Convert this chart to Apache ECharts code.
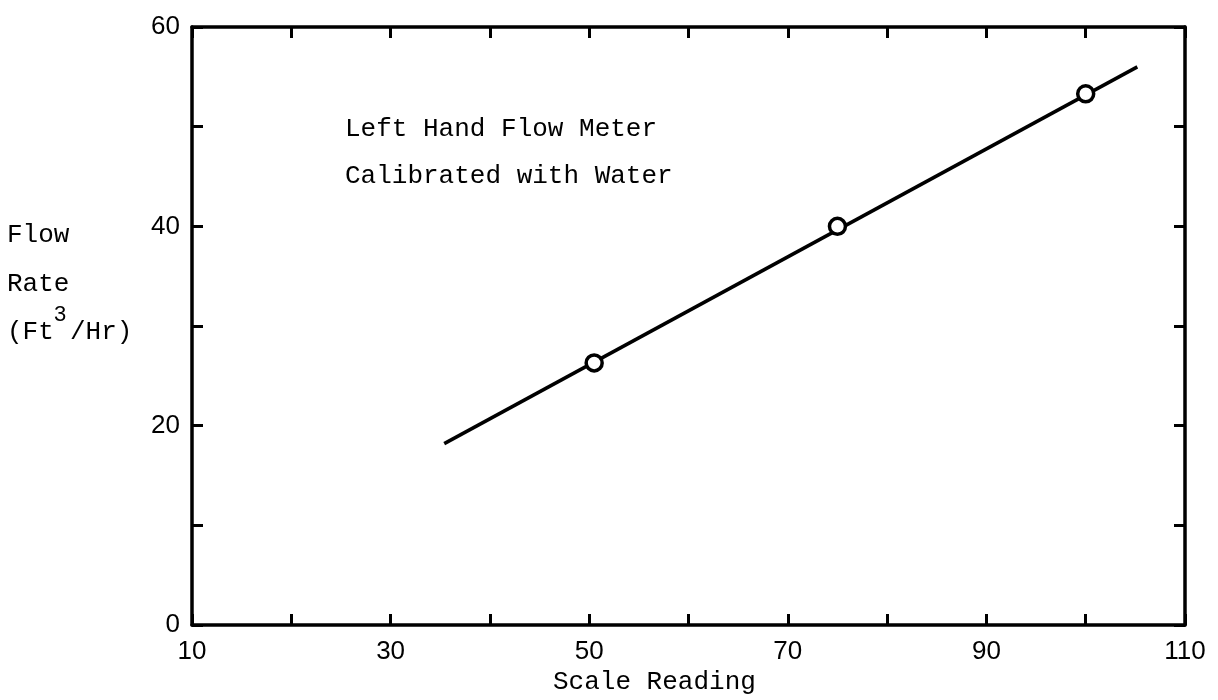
<!DOCTYPE html>
<html>
<head>
<meta charset="utf-8">
<script src="https://cdn.jsdelivr.net/npm/echarts@6/dist/echarts.min.js"></script>
<style>
html,body{margin:0;padding:0;background:#fff;}
#chart{width:1218px;height:700px;}
</style>
</head>
<body>
<div id="chart"></div>
<script>
// Data
const xLabelValues = [10, 30, 50, 70, 90, 110];
const yLabelValues = [0, 20, 40, 60];
const calibrationPoints = [[50.5, 26.3], [75, 40.0], [100, 53.3]];
const fitLine = [[35.4, 18.2], [105.2, 56.0]];
const annotationLines = ['Left Hand Flow Meter', 'Calibrated with Water'];
const xTitle = 'Scale Reading';

const mono = '"Liberation Mono", "DejaVu Sans Mono", monospace';
const sans = '"Liberation Sans", "DejaVu Sans", sans-serif';

const chart = echarts.init(document.getElementById('chart'));

const axisLine = { show: true, onZero: false, lineStyle: { color: '#000', width: 3.5 } };
const tick = { show: true, inside: true, length: 11, lineStyle: { color: '#000', width: 3 } };

const option = {
  backgroundColor: '#fff',
  animation: false,
  grid: { left: 192, right: 33, top: 27, bottom: 75, containLabel: false },
  xAxis: [
    {
      type: 'value', min: 10, max: 110, interval: 10, position: 'bottom',
      axisLine, axisTick: tick, splitLine: { show: false },
      axisLabel: {
        margin: 14, color: '#000', fontFamily: sans, fontSize: 26,
        formatter: v => xLabelValues.includes(v) ? String(v) : ''
      }
    },
    {
      type: 'value', min: 10, max: 110, interval: 10, position: 'top',
      axisLine, axisTick: tick, splitLine: { show: false }, axisLabel: { show: false }
    }
  ],
  yAxis: [
    {
      type: 'value', min: 0, max: 60, interval: 10, position: 'left',
      axisLine, axisTick: tick, splitLine: { show: false },
      axisLabel: {
        margin: 12, color: '#000', fontFamily: sans, fontSize: 26,
        formatter: v => yLabelValues.includes(v) ? String(v) : ''
      }
    },
    {
      type: 'value', min: 0, max: 60, interval: 10, position: 'right',
      axisLine, axisTick: tick, splitLine: { show: false }, axisLabel: { show: false }
    }
  ],
  series: [
    {
      type: 'line', data: fitLine, symbol: 'none', xAxisIndex: 0, yAxisIndex: 0,
      lineStyle: { color: '#000', width: 3.5 }, z: 2
    },
    {
      type: 'scatter', data: calibrationPoints, symbol: 'circle', symbolSize: 16,
      xAxisIndex: 0, yAxisIndex: 0,
      itemStyle: { color: '#fff', borderColor: '#000', borderWidth: 3.5, opacity: 1 }, z: 3
    }
  ],
  graphic: [
    { type: 'text', left: 345, top: 130 - 14, style: { text: annotationLines[0], font: '26px ' + mono, fill: '#000' } },
    { type: 'text', left: 345, top: 177 - 14, style: { text: annotationLines[1], font: '26px ' + mono, fill: '#000' } },
    { type: 'text', left: 7, top: 236 - 14, style: { text: 'Flow', font: '26px ' + mono, fill: '#000' } },
    { type: 'text', left: 7, top: 285 - 14, style: { text: 'Rate', font: '26px ' + mono, fill: '#000' } },
    { type: 'text', left: 7, top: 333 - 14, style: { text: '(Ft', font: '26px ' + mono, fill: '#000' } },
    { type: 'text', left: 54, top: 316 - 12, style: { text: '3', font: '22px ' + sans, fill: '#000' } },
    { type: 'text', left: 70, top: 333 - 14, style: { text: '/Hr)', font: '26px ' + mono, fill: '#000' } },
    { type: 'text', left: 655 - 102, top: 683 - 14, style: { text: xTitle, font: '26px ' + mono, fill: '#000' } }
  ]
};
chart.setOption(option);
</script>
</body>
</html>
